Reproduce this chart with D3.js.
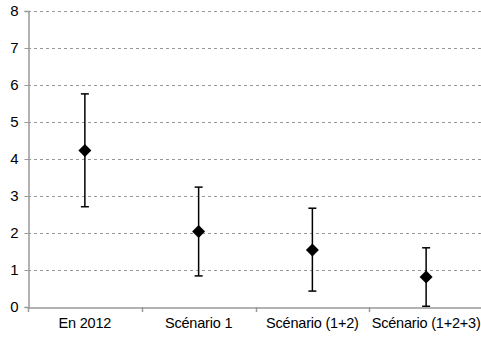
<!DOCTYPE html>
<html>
<head>
<meta charset="utf-8">
<script src="https://cdn.jsdelivr.net/npm/d3@7.9.0/dist/d3.min.js"></script>
<style>
  body { margin: 0; background: #fff; }
  svg { display: block; font-family: "Liberation Sans Narrow", "DejaVu Sans Condensed", "Arial Narrow", sans-serif; }
</style>
</head>
<body>
<svg id="chart" width="481" height="338"></svg>
<script>
const categories = ['En 2012', 'Scénario 1', 'Scénario (1+2)', 'Scénario (1+2+3)'];
const means = [4.23, 2.04, 1.54, 0.81];
const upper = [5.76, 3.24, 2.67, 1.6];
const lower = [2.71, 0.84, 0.43, 0.02];
const yTicks = [0, 1, 2, 3, 4, 5, 6, 7, 8];

const width = 481, height = 338;
const margin = { top: 11, right: -2, bottom: 31, left: 28 };

const svg = d3.select('#chart');

let x = d3.scaleBand()
    .domain(categories)
    .range([margin.left, width - margin.right]);

let y = d3.scaleLinear()
    .domain([0, 8])
    .range([height - margin.bottom, margin.top]);

// gridlines
svg.append('g')
    .selectAll('line')
    .data(yTicks.filter(d => d > 0))
    .join('line')
    .attr('x1', margin.left)
    .attr('x2', width)
    .attr('y1', d => Math.round(y(d)) + 0.5)
    .attr('y2', d => Math.round(y(d)) + 0.5)
    .attr('stroke', '#999')
    .attr('stroke-width', 1)
    .attr('stroke-dasharray', '3,3');

// y axis
let yAxis = svg.append('g')
    .attr('transform', `translate(${margin.left + 0.5},0)`)
    .call(d3.axisLeft(y).tickValues(yTicks).tickSize(4).tickPadding(6));
yAxis.select('.domain').attr('stroke', '#999').attr('stroke-width', 1.5);
yAxis.selectAll('.tick line').attr('stroke', '#999');
yAxis.selectAll('text').attr('font-size', 15).attr('fill', '#000');

// x axis
let xAxis = svg.append('g')
    .attr('transform', `translate(0,${Math.round(y(0)) + 0.5})`)
    .call(d3.axisBottom(x).tickSize(0).tickPadding(10));
xAxis.select('.domain').attr('stroke', '#999').attr('stroke-width', 1.5);
xAxis.selectAll('text').attr('font-size', 14.5).attr('fill', '#000')
    .attr('letter-spacing', -0.2);

// category separators
svg.append('g')
    .selectAll('line')
    .data(categories)
    .join('line')
    .attr('x1', d => Math.round(x(d)) + 0.5)
    .attr('x2', d => Math.round(x(d)) + 0.5)
    .attr('y1', y(0))
    .attr('y2', y(0) + 5)
    .attr('stroke', '#999')
    .attr('stroke-width', 1.5);

let cx = d => x(d) + x.bandwidth() / 2;

// error bars
let bars = svg.append('g');
categories.forEach((c, i) => {
    bars.append('line')
        .attr('x1', cx(c)).attr('x2', cx(c))
        .attr('y1', y(upper[i])).attr('y2', y(lower[i]))
        .attr('stroke', '#000').attr('stroke-width', 1.5);
    [upper[i], lower[i]].forEach(v => {
        bars.append('line')
            .attr('x1', cx(c) - 4).attr('x2', cx(c) + 4)
            .attr('y1', y(v)).attr('y2', y(v))
            .attr('stroke', '#000').attr('stroke-width', 1.5);
    });
});

// diamond markers
svg.append('g')
    .selectAll('path')
    .data(categories)
    .join('path')
    .attr('d', d3.symbol(d3.symbolSquare, 84))
    .attr('transform', (d, i) => `translate(${cx(d)},${y(means[i])}) rotate(45)`)
    .attr('fill', '#000');
</script>
</body>
</html>
